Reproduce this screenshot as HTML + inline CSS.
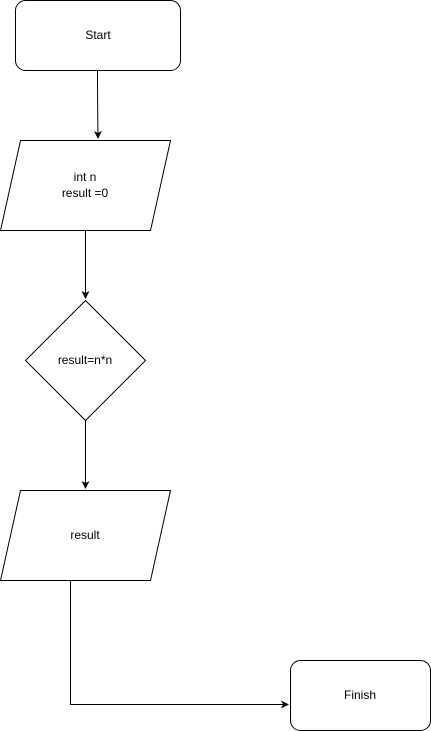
<!DOCTYPE html>
<html><head><style>html,body{margin:0;padding:0;background:#fff;}svg{display:block}</style></head>
<body>
<svg width="431" height="731" viewBox="0 0 431 731" xmlns="http://www.w3.org/2000/svg" font-family="Liberation Sans, Arial, sans-serif" font-size="12" fill="none" stroke="#000">
<defs><marker id="a" markerWidth="10" markerHeight="10" refX="7" refY="4" orient="auto" markerUnits="userSpaceOnUse"><path d="M0,0 L8,4 L0,8 L2,4 Z" fill="#000" stroke="none"/></marker></defs>
<rect x="15.5" y="0.5" width="165" height="70" rx="10" fill="#fff"/>
<path d="M97.5,70.5 Q97.5,100 98,138" marker-end="url(#a)"/>
<polygon points="20.5,140.5 170.5,140.5 150.5,230.5 0.5,230.5" fill="#fff"/>
<line x1="85.5" y1="230.5" x2="85.5" y2="298" marker-end="url(#a)"/>
<polygon points="85.5,300.5 145.5,360.5 85.5,420.5 25.5,360.5" fill="#fff"/>
<line x1="85.5" y1="420.5" x2="85.5" y2="488" marker-end="url(#a)"/>
<polygon points="20.5,490.5 170.5,490.5 150.5,580.5 0.5,580.5" fill="#fff"/>
<polyline points="70.5,580.5 70.5,704.5 288,704.5" marker-end="url(#a)"/>
<rect x="290.5" y="660.5" width="140" height="70" rx="10" fill="#fff"/>
<g fill="#000" stroke="none" text-anchor="middle">
<text x="98" y="39">Start</text>
<text x="85" y="181">int n</text>
<text x="85" y="197">result =0</text>
<text x="85" y="364">result=n*n</text>
<text x="85" y="539">result</text>
<text x="360" y="699">Finish</text>
</g>
</svg>
</body></html>
